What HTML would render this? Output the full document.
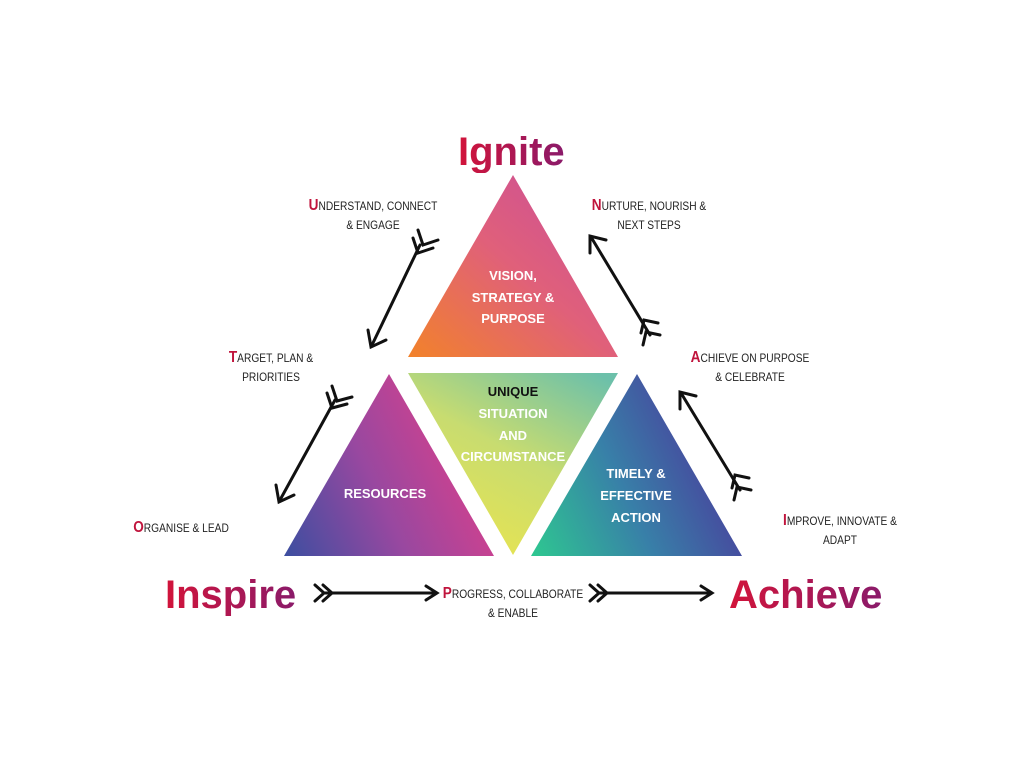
<!DOCTYPE html>
<html><head><meta charset="utf-8"><style>
html,body{margin:0;padding:0;background:#fff;}
body{width:1024px;height:767px;position:relative;overflow:hidden;font-family:"Liberation Sans",sans-serif;}
.lbl{position:absolute;font-size:12px;color:#222;text-align:center;line-height:19px;white-space:nowrap;transform:translateX(-50%) scaleX(0.85);font-family:"Liberation Sans Narrow","Liberation Sans",sans-serif;}
.lbl b{color:#c0143c;font-size:16px;}
.big{position:absolute;font-weight:bold;font-size:40px;background:linear-gradient(90deg,#d2143a,#8a1a6a);-webkit-background-clip:text;background-clip:text;color:transparent;line-height:42px;white-space:nowrap;}
</style></head><body>
<svg width="1024" height="767" style="position:absolute;left:0;top:0">
<defs>
<linearGradient id="gt" x1="0" y1="1" x2="1" y2="0"><stop offset="0" stop-color="#f2822a"/><stop offset="0.5" stop-color="#e0607a"/><stop offset="1" stop-color="#c84c9c"/></linearGradient>
<linearGradient id="gm" x1="0.9" y1="0" x2="0.3" y2="1"><stop offset="0" stop-color="#6cc0aa"/><stop offset="0.5" stop-color="#c8dc70"/><stop offset="1" stop-color="#e8e450"/></linearGradient>
<linearGradient id="gl" x1="0" y1="1" x2="1" y2="0.6"><stop offset="0" stop-color="#3c4ea0"/><stop offset="0.5" stop-color="#9848a0"/><stop offset="1" stop-color="#d8408c"/></linearGradient>
<linearGradient id="gr" x1="0" y1="1" x2="1" y2="0.6"><stop offset="0" stop-color="#2ec890"/><stop offset="0.5" stop-color="#3880a8"/><stop offset="1" stop-color="#4a3c9c"/></linearGradient>
</defs>
<polygon points="513,175 408,357 618,357" fill="url(#gt)"/>
<polygon points="408,373 618,373 513,555" fill="url(#gm)"/>
<polygon points="389,374 284,556 494,556" fill="url(#gl)"/>
<polygon points="637,374 531,556 742,556" fill="url(#gr)"/>
<g stroke="#111" stroke-width="3" fill="none" stroke-linecap="round">
<line x1="420" y1="245" x2="372" y2="345"/><path d="M368,330 L371,347 L386,340"/><path d="M413,238 L418,253 L433,248 M418,230 L423,245 L438,240"/>
<line x1="335" y1="400" x2="280" y2="500"/><path d="M276,485 L279,502 L294,495"/><path d="M327,393 L332,408 L347,404 M332,386 L337,401 L352,397"/>
<line x1="650" y1="335" x2="591" y2="237"/><path d="M590,253 L590,236 L606,240"/><path d="M643,345 L646,332 L660,335 M641,333 L644,320 L658,323"/>
<line x1="740" y1="490" x2="681" y2="393"/><path d="M680,409 L680,392 L696,396"/><path d="M734,500 L737,487 L751,490 M732,488 L735,475 L749,478"/>
<line x1="325" y1="593" x2="436" y2="593"/><path d="M426,586 L437,593 L426,600"/><path d="M315,585 L324,593 L315,601 M323,585 L332,593 L323,601"/>
<line x1="600" y1="593" x2="711" y2="593"/><path d="M701,586 L712,593 L701,600"/><path d="M590,585 L599,593 L590,601 M598,585 L607,593 L598,601"/>
</g>
<g font-family="Liberation Sans Narrow,Liberation Sans,sans-serif" font-weight="bold" font-size="13" text-anchor="middle" fill="#fff">
<text x="513" y="280">VISION,</text><text x="513" y="302">STRATEGY &amp;</text><text x="513" y="323">PURPOSE</text>
<text x="513" y="396" fill="#111">UNIQUE</text><text x="513" y="418">SITUATION</text><text x="513" y="440">AND</text><text x="513" y="461">CIRCUMSTANCE</text>
<text x="385" y="498">RESOURCES</text>
<text x="636" y="478">TIMELY &amp;</text><text x="636" y="500">EFFECTIVE</text><text x="636" y="522">ACTION</text>
</g>
</svg>
<div class="big" style="left:458px;top:131px;">Ignite</div>
<div class="big" style="left:165px;top:574px;">Inspire</div>
<div class="big" style="left:729px;top:574px;">Achieve</div>
<div class="lbl" style="left:373px;top:196px;"><b>U</b>NDERSTAND, CONNECT<br>&amp; ENGAGE</div>
<div class="lbl" style="left:649px;top:196px;"><b>N</b>URTURE, NOURISH &amp;<br>NEXT STEPS</div>
<div class="lbl" style="left:271px;top:348px;"><b>T</b>ARGET, PLAN &amp;<br>PRIORITIES</div>
<div class="lbl" style="left:750px;top:348px;"><b>A</b>CHIEVE ON PURPOSE<br>&amp; CELEBRATE</div>
<div class="lbl" style="left:181px;top:518px;"><b>O</b>RGANISE &amp; LEAD</div>
<div class="lbl" style="left:840px;top:511px;"><b>I</b>MPROVE, INNOVATE &amp;<br>ADAPT</div>
<div class="lbl" style="left:513px;top:584px;"><b>P</b>ROGRESS, COLLABORATE<br>&amp; ENABLE</div>
</body></html>
